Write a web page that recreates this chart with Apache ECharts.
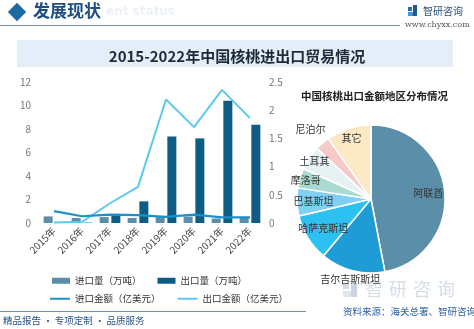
<!DOCTYPE html>
<html>
<head>
<meta charset="utf-8">
<script src="https://cdn.jsdelivr.net/npm/echarts@6/dist/echarts.min.js"></script>
<style>
html,body{margin:0;padding:0;background:#fff;}
#c{width:474px;height:329px;}
</style>
</head>
<body>
<div id="c"></div>
<script>
// ---- data ----
var years = ['2015年','2016年','2017年','2018年','2019年','2020年','2021年','2022年'];
var importVolume = [0.56, 0.42, 0.50, 0.42, 0.50, 0.55, 0.38, 0.48];   // 万吨
var exportVolume = [0.05, 0.03, 0.77, 1.84, 7.37, 7.20, 10.40, 8.37];  // 万吨
var importValue  = [0.21, 0.12, 0.15, 0.14, 0.11, 0.15, 0.10, 0.10];   // 亿美元
var exportValue  = [0.01, 0.02, 0.35, 0.64, 2.19, 1.70, 2.36, 1.86];   // 亿美元
var leftTicks = [0, 12, 2];
var rightTicks = [0, 2.5, 0.5];
var regions = ['阿联酋','吉尔吉斯斯坦','哈萨克斯坦','巴基斯坦','摩洛哥','土耳其','尼泊尔','其它'];
var regionShare = [47.0, 14.1, 10.2, 6.1, 4.3, 5.3, 3.2, 9.8];

// ---- styles ----
var regionColors = ['#5b8fa9','#1f9bd6','#2cc1f0','#7fd0f2','#a9dbd2','#e6f1f3','#f6c9c9','#fbe8c4'];
var labelRadius = [0.72, 1.03, 0.7, 0.72, 0.85, 0.85, 1.15, 0.8];
var pieCenter = [371, 199];
var font = '"Noto Sans CJK SC", "Noto Sans", sans-serif';

var chart = echarts.init(document.getElementById('c'), null, {renderer:'canvas'});
var option = {
  backgroundColor: '#fff',
  textStyle: {fontFamily: font},
  title: [
    {text: '2015-2022年中国核桃进出口贸易情况', left: 'center', top: 44,
     textStyle: {fontSize: 15, fontWeight: 'bold', color: '#1c2a3a', fontFamily: font}},
    {text: '中国核桃出口金额地区分布情况', left: 296, top: 86,
     textStyle: {fontSize: 10.5, fontWeight: 'bold', color: '#222', fontFamily: font}}
  ],
  graphic: [
    {type: 'rect', shape: {x: 17, y: 40, width: 436, height: 27}, style: {fill: '#e4eef8'}, z: -10},
    {type: 'text', left: 106, top: 6, style: {text: 'ent status', font: 'bold 12px "DejaVu Sans", sans-serif', fill: '#edf1f5'}, z: -5},
    {type: 'rect', shape: {x: -6.5, y: -6.5, width: 13, height: 13}, x: 17, y: 12, rotation: Math.PI/4, style: {fill: '#1d6aa3'}},
    {type: 'text', left: 33, top: 2, style: {text: '发展现状', font: 'bold 17px "Noto Sans CJK SC", sans-serif', fill: '#1f4f80'}},
    {type: 'line', shape: {x1: 0, y1: 25.5, x2: 400, y2: 25.5}, style: {stroke: '#6f90b0', lineWidth: 1}},
    {type: 'rect', shape: {x: 408, y: 7, width: 4, height: 4}, style: {fill: '#2a6fb0'}},
    {type: 'rect', shape: {x: 408, y: 12, width: 7, height: 4}, style: {fill: '#3a9be0'}},
    {type: 'rect', shape: {x: 413, y: 5, width: 4, height: 11}, style: {fill: '#1d5a95'}},
    {type: 'text', left: 423, top: 6, style: {text: '智研咨询', font: '10px "Noto Sans CJK SC", sans-serif', fill: '#2a4f7a'}},
    {type: 'text', left: 405, top: 21, style: {text: 'www.chyxx.com', font: '8px "DejaVu Serif", serif', fill: '#555'}},
    {type: 'line', shape: {x1: 0, y1: 311.5, x2: 306, y2: 311.5}, style: {stroke: '#6f90b0', lineWidth: 1}},
    {type: 'text', left: 3, top: 316, style: {text: '精品报告 · 专项定制 · 品质服务', font: '9.5px "Noto Sans CJK SC", sans-serif', fill: '#2a5585'}},
    {type: 'rect', shape: {x: 343, y: 284, width: 6, height: 5}, style: {fill: '#d3dde8'}},
    {type: 'rect', shape: {x: 343, y: 291, width: 12, height: 6}, style: {fill: '#dfe7ef'}},
    {type: 'rect', shape: {x: 351, y: 283, width: 6, height: 14}, style: {fill: '#c9d5e1'}},
    {type: 'text', left: 365, top: 280, style: {text: '智', font: '18px "Noto Sans CJK SC", sans-serif', fill: '#d5dee8'}},
    {type: 'text', left: 389, top: 280, style: {text: '研', font: '18px "Noto Sans CJK SC", sans-serif', fill: '#d5dee8'}},
    {type: 'text', left: 413, top: 280, style: {text: '咨', font: '18px "Noto Sans CJK SC", sans-serif', fill: '#d5dee8'}},
    {type: 'text', left: 437, top: 280, style: {text: '询', font: '18px "Noto Sans CJK SC", sans-serif', fill: '#d5dee8'}},
    {type: 'text', left: 343, top: 307, style: {text: '资料来源：海关总署、智研咨询整理', font: '9.5px "Noto Sans CJK SC", sans-serif', fill: '#2f62a0'}}
  ],
  legend: [
    {left: 47, top: 271, itemGap: 16, itemWidth: 18, itemHeight: 6, icon: 'rect',
     textStyle: {fontSize: 9.5, color: '#333'},
     data: ['进口量（万吨）','出口量（万吨）']},
    {left: 45, top: 289, itemGap: 17, itemWidth: 20, itemHeight: 2, icon: 'rect',
     textStyle: {fontSize: 9.5, color: '#333'},
     data: ['进口金额（亿美元）','出口金额（亿美元）']}
  ],
  grid: {left: 40, right: 210, top: 82, bottom: 106, containLabel: false},
  xAxis: {
    type: 'category', data: years,
    axisLine: {show: false}, axisTick: {show: false},
    axisLabel: {rotate: 45, fontSize: 10, color: '#444', margin: 6, interval: 0}
  },
  yAxis: [
    {type: 'value', min: leftTicks[0], max: leftTicks[1], interval: leftTicks[2],
     splitLine: {show: false}, axisLine: {show: false}, axisTick: {show: false},
     axisLabel: {fontSize: 10, color: '#777', margin: 9}},
    {type: 'value', min: rightTicks[0], max: rightTicks[1], interval: rightTicks[2],
     splitLine: {show: false}, axisLine: {show: false}, axisTick: {show: false},
     axisLabel: {fontSize: 10, color: '#777', margin: 5}}
  ],
  series: [
    {name: '进口量（万吨）', type: 'bar', data: importVolume, barWidth: 9, barGap: '30%',
     itemStyle: {color: '#5b8ea9'}},
    {name: '出口量（万吨）', type: 'bar', data: exportVolume, barWidth: 9,
     itemStyle: {color: '#0d5c84'}},
    {name: '进口金额（亿美元）', type: 'line', yAxisIndex: 1, data: importValue,
     showSymbol: false, lineStyle: {width: 2.2, color: '#1b90cc'}, itemStyle: {color: '#1b90cc'}, z: 5},
    {name: '出口金额（亿美元）', type: 'line', yAxisIndex: 1, data: exportValue,
     showSymbol: false, lineStyle: {width: 2, color: '#5ccaf0'}, itemStyle: {color: '#5ccaf0'}, z: 4},
    {type: 'pie', center: pieCenter, radius: 74, startAngle: 90, clockwise: true,
     itemStyle: {borderColor: '#fff', borderWidth: 1.5},
     label: {show: true, position: 'inside', fontSize: 10, color: '#333'},
     labelLine: {show: false},
     emphasis: {disabled: true},
     data: regions.map(function (n, i) {
       return {name: n, value: regionShare[i], itemStyle: {color: regionColors[i]}};
     }),
     labelLayout: function (p) {
       var r = p.labelRect;
       var cx = r.x + r.width / 2, cy = r.y + r.height / 2;
       var vx = cx - pieCenter[0], vy = cy - pieCenter[1];
       var k = labelRadius[p.dataIndex] / 0.5 - 1;
       return {dx: vx * k, dy: vy * k};
     }
    }
  ]
};
chart.setOption(option);
</script>
</body>
</html>
